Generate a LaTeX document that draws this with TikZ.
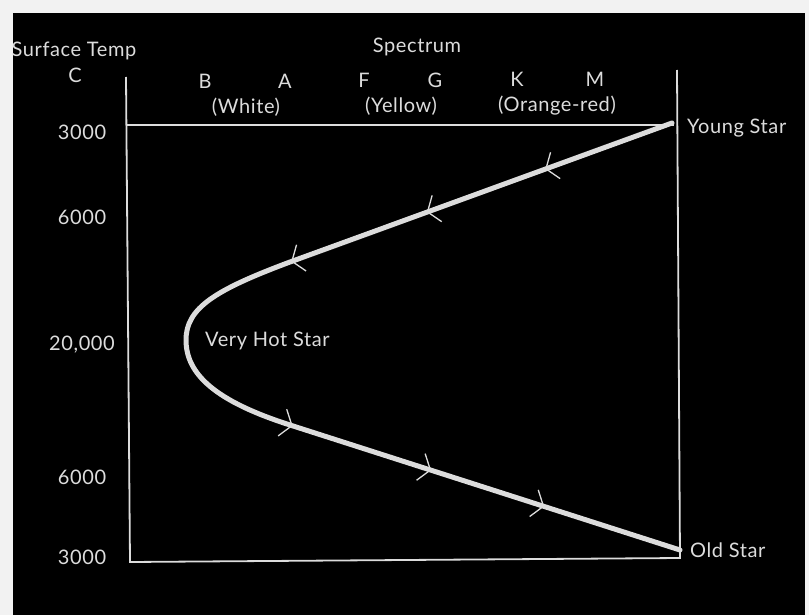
\documentclass[tikz,border=0pt]{standalone}
\usepackage{fontspec}
\setmainfont{Lato}[LetterSpace=3]
\usetikzlibrary{decorations.markings}
\definecolor{ink}{HTML}{DCDCDC}
\definecolor{bgpaper}{HTML}{F2F2F2}
\tikzset{
  lbl/.style={text=ink, font=\fontsize{20}{24}\selectfont, inner sep=0pt, anchor=base},
  axis/.style={draw=ink, line width=1.8pt},
  track/.style={draw=ink, line width=5pt, line cap=round},
  chev/.style={draw=ink, line width=1.3pt},
  chevmarks/.style={postaction={decorate, decoration={markings,
      mark=at position #1 with {\draw[chev] (-10pt,14pt) -- (0pt,0pt) -- (-10pt,-14pt);}}}}
}
\begin{document}
\begin{tikzpicture}[x=1pt,y=-1pt]
\useasboundingbox (0,0) rectangle (809,615);
\fill[bgpaper] (0,0) rectangle (809,615);
\fill[black] (13,13) rectangle (805,615);

% axes frame
\coordinate (tl) at (127,125);
\coordinate (tr) at (674,125);
\coordinate (ttop) at (126,77);
\coordinate (rtop) at (677,70);
\coordinate (bl) at (130,562);
\coordinate (br) at (680,558);
\draw[axis] (ttop) -- (bl) -- (br) -- (rtop);
\draw[axis] (tl) -- (tr);

% track
\coordinate (young) at (672,123);
\coordinate (p1) at (290,262);
\coordinate (hot) at (186,340);
\coordinate (p2) at (290,425);
\coordinate (old) at (680,550);
\draw[track] (young) -- (p1) .. controls (215,290) and (186,308) .. (hot)
   .. controls (186,374) and (215,401) .. (p2) -- (old);
\path[chevmarks=0.33, chevmarks=0.64, chevmarks=0.995] (young) -- (p1);
\path[chevmarks=0.005, chevmarks=0.36, chevmarks=0.65] (p2) -- (old);

% labels
\node[lbl] (surf) at (74,57) {Surface Temp};
\node[lbl] (cdeg) at (75,83) {C};
\node[lbl] (spec) at (417,53) {Spectrum};
\node[lbl] (B) at (205,89) {B};
\node[lbl] (A) at (285,89) {A};
\node[lbl] (F) at (364,88) {F};
\node[lbl] (G) at (435,88) {G};
\node[lbl] (K) at (517,87) {K};
\node[lbl] (M) at (595,87) {M};
\node[lbl] (white) at (246,114) {(White)};
\node[lbl] (yellow) at (401,113) {(Yellow)};
\node[lbl] (orange) at (557,112) {(Orange-red)};
\node[lbl] (t1) at (82,140) {3000};
\node[lbl] (t2) at (82,224) {6000};
\node[lbl] (t3) at (82,350) {20,000};
\node[lbl] (t4) at (82,484) {6000};
\node[lbl] (t5) at (82,564) {3000};
\node[lbl, anchor=base west] (ylab) at (687,134) {Young Star};
\node[lbl, anchor=base west] (olab) at (690,557) {Old Star};
\node[lbl, anchor=base west] (hlab) at (205,346) {Very Hot Star};
\end{tikzpicture}
\end{document}
